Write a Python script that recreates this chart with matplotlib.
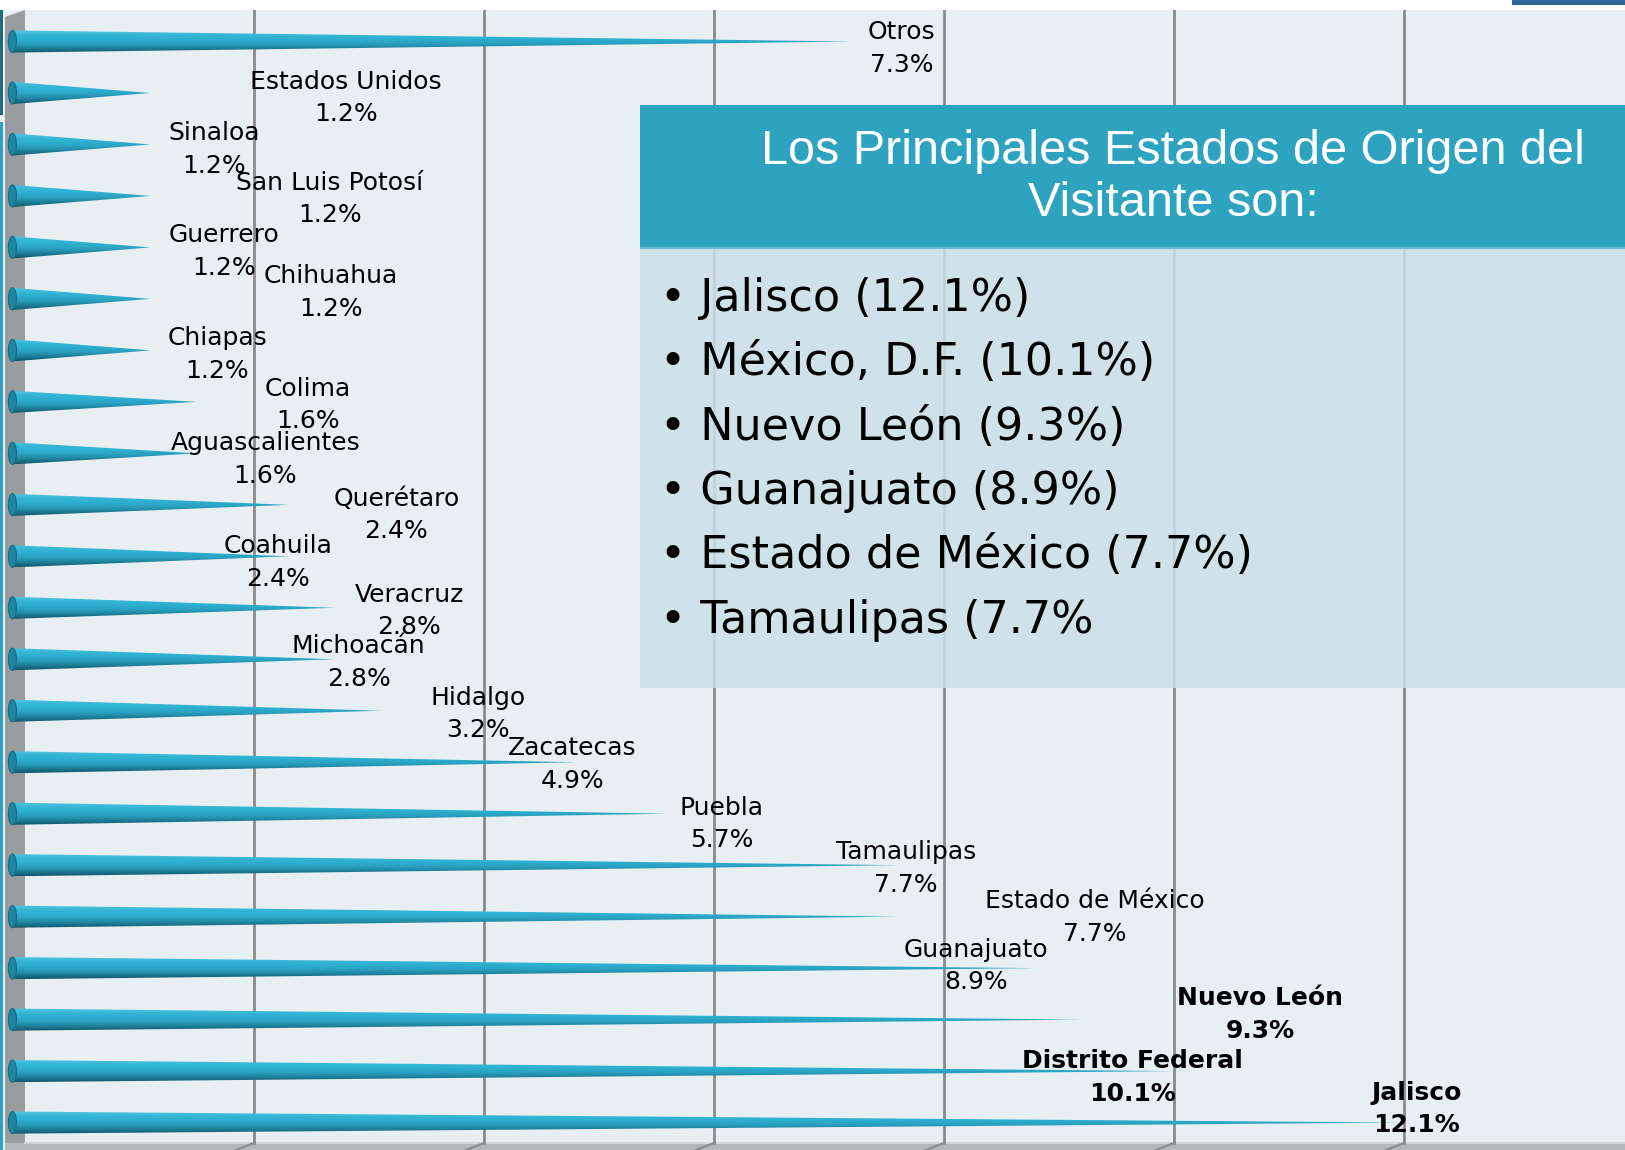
import numpy as np
import matplotlib.pyplot as plt
from matplotlib.patches import Polygon, Rectangle, Ellipse
from matplotlib.colors import LinearSegmentedColormap

# Origen de los visitantes (%), de arriba hacia abajo
estados = ['Otros', 'Estados Unidos', 'Sinaloa', 'San Luis Potosí', 'Guerrero',
           'Chihuahua', 'Chiapas', 'Colima', 'Aguascalientes', 'Querétaro',
           'Coahuila', 'Veracruz', 'Michoacán', 'Hidalgo', 'Zacatecas', 'Puebla',
           'Tamaulipas', 'Estado de México', 'Guanajuato', 'Nuevo León',
           'Distrito Federal', 'Jalisco']
porcentajes = [7.3, 1.2, 1.2, 1.2, 1.2, 1.2, 1.2, 1.6, 1.6, 2.4, 2.4, 2.8, 2.8,
               3.2, 4.9, 5.7, 7.7, 7.7, 8.9, 9.3, 10.1, 12.1]
destacados = ['Nuevo León', 'Distrito Federal', 'Jalisco']

# posicion de cada etiqueta: x en %, desplazamiento vertical en filas
etiqueta_x = [7.73, 2.90, 1.75, 2.76, 1.84, 2.77, 1.78, 2.57, 2.20, 3.34, 2.31,
              3.45, 3.01, 4.05, 4.87, 6.17, 7.77, 9.41, 8.38, 10.85, 9.74, 12.21]
etiqueta_dy = [0.14, 0.10, 0.10, 0.06, 0.08, -0.12, 0.08, 0.06, 0.12, 0.20, 0.12,
               0.06, 0.06, 0.06, 0.04, 0.20, 0.06, 0.02, -0.04, -0.10, 0.12, -0.26]

titulo = 'Los Principales Estados de Origen del\nVisitante son:'
principales = ['Jalisco (12.1%)', 'México, D.F. (10.1%)', 'Nuevo León (9.3%)',
               'Guanajuato (8.9%)', 'Estado de México (7.7%)', 'Tamaulipas (7.7%']

W, H = 1625, 1150
fila0, paso = 41.5, 51.48      # pixel de la primera fila y separacion
x0, px_por = 12.4, 115.0       # pixel del 0 % y pixeles por 1 %
prof = 0.1                     # desplazamiento 3D de la pared del fondo


def fila(py):
    return (py - fila0) / paso


def valx(px):
    return (px - x0) / px_por


fig = plt.figure(figsize=(W / 100, H / 100), dpi=100)
fig.patch.set_facecolor('white')
ax = fig.add_axes([0, 0, 1, 1 - 10 / H])
ax.set_facecolor('#E8EFF3')
for s in ax.spines.values():
    s.set_visible(False)
ax.set_xticks([])
ax.set_yticks([])

# pared izquierda y piso
ax.add_patch(Polygon([(valx(5), fila(17)), (valx(25), fila(10)),
                      (valx(25), fila(1143)), (valx(5), fila(1150))],
                     closed=True, facecolor='#9A9D9F', edgecolor='none', zorder=1))
ax.add_patch(Rectangle((valx(5), fila(1143)), valx(W + 10) - valx(5),
                       fila(1160) - fila(1143), facecolor='#B4B8BA',
                       edgecolor='none', zorder=1))
ax.plot([valx(25), valx(W)], [fila(1143)] * 2, color='#D3D6D7', lw=1.5, zorder=1)

# lineas de division
for g in np.arange(2, 14, 2):
    ax.plot([g + prof] * 2, [fila(10), fila(1143)], color='#8A8A8A', lw=2, zorder=1)
    ax.plot([g + prof, g + prof - 0.2], [fila(1143), fila(1152)],
            color='#8A8A8A', lw=1.5, zorder=1)

# conos
cmap = LinearSegmentedColormap.from_list(
    'cono', ['#55C6E0', '#38B6D6', '#2EAFD0', '#2A9FBF', '#1E7E98', '#12566A'])
grad = np.linspace(0, 1, 64).reshape(-1, 1)
h = 0.215
for i, v in enumerate(porcentajes):
    tri = Polygon([(0, i - h), (v, i), (0, i + h)], closed=True,
                  facecolor='none', edgecolor='none')
    ax.add_patch(tri)
    im = ax.imshow(grad, extent=(0, v, i + h, i - h), cmap=cmap, aspect='auto',
                   interpolation='bilinear', zorder=3)
    im.set_clip_path(tri)
    ax.add_patch(Ellipse((0, i), 0.07, 2 * h, facecolor='#1F86A1',
                         edgecolor='#176C82', lw=0.8, zorder=4))

# etiquetas
for i, (e, v) in enumerate(zip(estados, porcentajes)):
    ax.text(etiqueta_x[i], i + etiqueta_dy[i], f'{e}\n{v:.1f}%', ha='center',
            va='center', fontsize=18, linespacing=1.45,
            fontweight='bold' if e in destacados else 'normal', zorder=6)

ax.set_xlim(valx(0), valx(W))
ax.set_ylim(fila(H), fila(10))

# recuadro con los principales estados
bx = 640 / W
y_cab0, y_cab1, y_cue = 1 - 249 / H, 1 - 105 / H, 1 - 688 / H
fig.add_artist(Rectangle((bx, y_cue), 1 - bx, y_cab0 - y_cue,
                         transform=fig.transFigure, facecolor='#CBE0E8',
                         alpha=0.85, edgecolor='none', zorder=5))
fig.add_artist(Rectangle((bx, y_cab0), 1 - bx, y_cab1 - y_cab0,
                         transform=fig.transFigure, facecolor='#2EA3C0',
                         edgecolor='none', zorder=5))
fig.add_artist(Rectangle((bx, y_cab0), 1 - bx, 2 / H,
                         transform=fig.transFigure, facecolor='#62BCD3',
                         edgecolor='none', zorder=5))
fig.text(1173 / W, 1 - 178 / H, titulo, ha='center', va='center', color='white',
         fontsize=35, linespacing=1.2,
         family=['Liberation Sans', 'DejaVu Sans'], zorder=6)
for k, t in enumerate(principales):
    fig.text(660 / W, 1 - (298.5 + 64.3 * k) / H, '• ' + t, ha='left', va='center',
             fontsize=32, color='black', zorder=6)

# detalles del borde
fig.add_artist(Rectangle((0, 0), 3 / W, 1 - 122 / H, transform=fig.transFigure,
                         facecolor='#2EA3C0', edgecolor='none', zorder=5))
fig.add_artist(Rectangle((0, 1 - 115 / H), 3 / W, 105 / H, transform=fig.transFigure,
                         facecolor='#1F6A7E', edgecolor='none', zorder=5))
fig.add_artist(Rectangle((1512 / W, 1 - 5 / H), 1, 5 / H, transform=fig.transFigure,
                         facecolor='#2E6A99', edgecolor='none', zorder=5))

fig.savefig('out.png', dpi=100)
